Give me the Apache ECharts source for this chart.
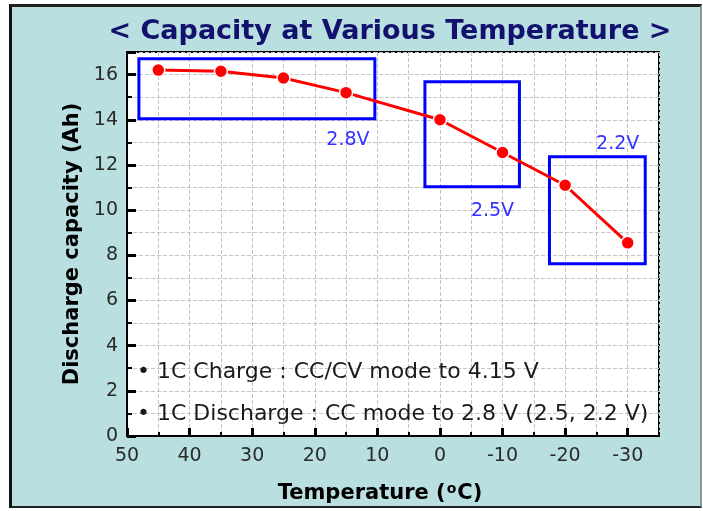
<!DOCTYPE html>
<html>
<head>
<meta charset="utf-8">
<script src="https://cdn.jsdelivr.net/npm/echarts@6/dist/echarts.min.js"></script>
<style>
  html, body { margin: 0; padding: 0; background: #ffffff; }
  #frame { position: absolute; left: 9px; top: 4px; width: 693px; height: 504px; box-sizing: border-box;
           background: #b9dfe1; border-left: 3px solid #111; border-top: 3px solid #222;
           border-right: 2px solid #8a9a9a; border-bottom: 2px solid #222; }
  #chart { position: absolute; left: 0; top: 0; width: 703px; height: 511px; }
</style>
</head>
<body>
<div id="frame"></div>
<div id="chart"></div>
<script>
// ---- data ----
const temps = [45, 35, 25, 15, 0, -10, -20, -30];
const capacity = [16.2, 16.15, 15.85, 15.2, 14.0, 12.55, 11.1, 8.55];
const xTickLabels = [50, 40, 30, 20, 10, 0, -10, -20, -30];
const yTickLabels = [0, 2, 4, 6, 8, 10, 12, 14, 16];
// boxes: [tempA, capA, tempB, capB]
const boxes = [[48.1, 16.7, 10.4, 14.05], [2.4, 15.68, -12.7, 11.03], [-17.5, 12.36, -32.8, 7.63]];
const boxLabels = ['2.8V', '2.5V', '2.2V'];
const boxLabelPos = [[14.7, 13.12], [-8.4, 9.96], [-28.4, 12.94]];
const notes = ['\u2022 1C Charge : CC/CV mode to 4.15 V', '\u2022 1C Discharge : CC mode to 2.8 V (2.5, 2.2 V)'];
const notePos = [[48.4, 2.82], [48.4, 0.98]];

const FONT = 'DejaVu Sans';
const chart = echarts.init(document.getElementById('chart'), null, { renderer: 'canvas' });

const gridLine = { show: true, lineStyle: { color: '#c4c4c4', width: 1, type: [4, 2] } };

const option = {
  animation: false,
  backgroundColor: 'transparent',
  title: {
    text: '< Capacity at Various Temperature >',
    left: 385, top: 13, textAlign: 'center',
    textStyle: { fontFamily: FONT, fontWeight: 'bold', fontSize: 27, color: '#12126e' }
  },
  grid: { left: 127, right: 44, top: 52, bottom: 74, show: true, backgroundColor: '#ffffff',
          borderColor: '#000', borderWidth: 2 },
  xAxis: [{
    type: 'value', inverse: true, min: -35, max: 50, interval: 5, position: 'bottom',
    axisLine: { show: true, onZero: false, lineStyle: { color: '#000', width: 2 } },
    axisTick: { show: true, inside: true, length: 4, lineStyle: { color: '#000', width: 2 } },
    axisLabel: { show: true, margin: 11, fontFamily: FONT, fontSize: 19, color: '#2a2a2a',
                 formatter: v => (xTickLabels.indexOf(v) >= 0 ? String(v) : '') },
    splitLine: gridLine,
    name: '{a|Temperature (}{s|o}{a|C)}', nameLocation: 'middle', nameGap: 46,
    nameTextStyle: { padding: [0, 26, 0, 0],
      rich: { a: { fontFamily: FONT, fontWeight: 'bold', fontSize: 21, color: '#000', lineHeight: 24 },
              s: { fontFamily: FONT, fontWeight: 'bold', fontSize: 14, color: '#000', verticalAlign: 'top',
                   lineHeight: 14, padding: [0, 1, 10, 1] } } }
  }, {
    type: 'value', inverse: true, min: -35, max: 50, position: 'bottom',
    axisLine: { show: false, onZero: false },
    axisTick: { show: true, inside: true, length: 8, customValues: xTickLabels, lineStyle: { color: '#000', width: 3 } },
    axisLabel: { show: false },
    splitLine: { show: false }
  }],
  yAxis: [{
    type: 'value', min: 0, max: 17, interval: 1, position: 'left',
    axisLine: { show: true, onZero: false, lineStyle: { color: '#000', width: 2 } },
    axisTick: { show: true, inside: true, length: 5, lineStyle: { color: '#000', width: 2 } },
    axisLabel: { show: true, margin: 9, fontFamily: FONT, fontSize: 19, color: '#2a2a2a',
                 formatter: v => (yTickLabels.indexOf(v) >= 0 ? String(v) : '') },
    splitLine: gridLine,
    name: 'Discharge capacity (Ah)', nameLocation: 'middle', nameRotate: 90, nameGap: 33,
    nameTextStyle: { fontFamily: FONT, fontWeight: 'bold', fontSize: 21, color: '#000' }
  }, {
    type: 'value', min: 0, max: 17, interval: 2, position: 'left',
    axisLine: { show: false, onZero: false },
    axisTick: { show: true, inside: true, length: 9, lineStyle: { color: '#000', width: 3 } },
    axisLabel: { show: false },
    splitLine: { show: false }
  }],
  series: [{
    type: 'line', xAxisIndex: 0, yAxisIndex: 0, z: 5,
    data: temps.map((t, i) => [t, capacity[i]]),
    lineStyle: { color: '#ff0000', width: 3 },
    symbol: 'circle', symbolSize: 13,
    itemStyle: { color: '#ff0000', borderColor: '#ffffff', borderWidth: 1.5 },
    markArea: {
      silent: true,
      itemStyle: { color: 'rgba(0,0,0,0)', borderColor: '#0000ff', borderWidth: 3 },
      label: { show: false },
      data: boxes.map(b => [{ coord: [b[0], b[1]] }, { coord: [b[2], b[3]] }])
    }
  }, {
    type: 'scatter', xAxisIndex: 0, yAxisIndex: 0, silent: true, z: 6,
    symbolSize: 1, itemStyle: { color: 'rgba(0,0,0,0)', opacity: 1 },
    data: boxLabelPos.map((p, i) => [p[0], p[1], boxLabels[i]]),
    label: { show: true, position: 'inside', formatter: p => p.value[2],
             fontFamily: FONT, fontSize: 19, color: '#3333ff', opacity: 1 }
  }, {
    type: 'scatter', xAxisIndex: 0, yAxisIndex: 0, silent: true, z: 6,
    symbolSize: 1, itemStyle: { color: 'rgba(0,0,0,0)', opacity: 1 },
    data: notePos.map((p, i) => [p[0], p[1], notes[i]]),
    label: { show: true, position: 'inside', align: 'left', verticalAlign: 'middle', opacity: 1,
             formatter: p => p.value[2], fontFamily: FONT, fontSize: 22, color: '#1a1a1a' }
  }]
};
chart.setOption(option);
</script>
</body>
</html>
